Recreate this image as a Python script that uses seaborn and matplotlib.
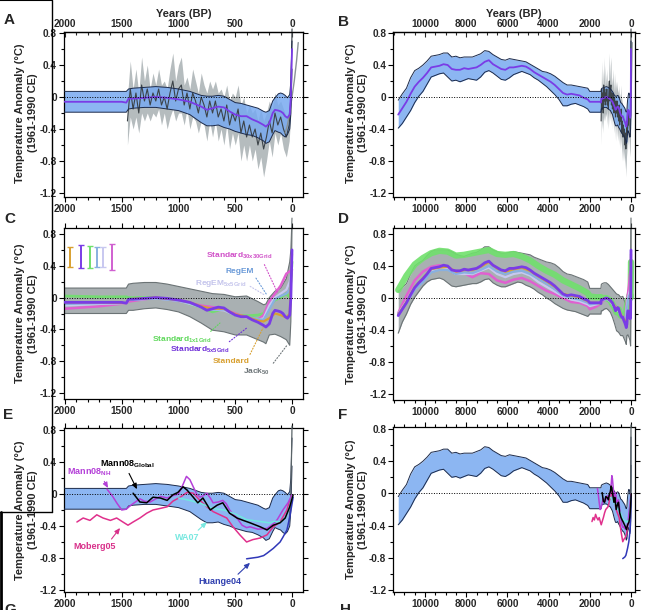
import matplotlib
matplotlib.use("Agg")
import matplotlib.pyplot as plt
import seaborn as sns
from matplotlib.lines import Line2D
from matplotlib.patches import Rectangle
from matplotlib.ticker import MultipleLocator, FixedLocator, FuncFormatter

# ---------------------------------------------------------------- data
# Marcott et al. 5x5 stack (years BP), mean and 1-sigma envelope
marcott_years = [11300, 11100, 10900, 10700, 10500, 10300, 10100, 9900, 9700, 9500, 9300, 9100,
                 8900, 8700, 8500, 8300, 8100, 7900, 7700, 7500, 7300, 7100, 6900, 6700, 6500,
                 6300, 6100, 5900, 5700, 5500, 5300, 5100, 4900, 4700, 4500, 4300, 4100, 3900,
                 3700, 3500, 3300, 3100, 2900, 2700, 2500, 2300, 2100,
                 2000, 1900, 1800, 1700, 1600, 1500, 1460, 1440, 1400, 1300, 1200, 1100, 1000,
                 900, 800, 750, 700, 650, 600, 550, 500, 450, 400, 350, 300, 250, 230, 200,
                 170, 150, 120, 100, 80, 60, 40, 20, 10, 0]
marcott_upper = [-0.04, 0.04, 0.11, 0.24, 0.33, 0.36, 0.40, 0.45, 0.51, 0.52, 0.53, 0.55,
                 0.55, 0.50, 0.51, 0.49, 0.50, 0.50, 0.50, 0.52, 0.54, 0.58, 0.57, 0.53, 0.50,
                 0.47, 0.46, 0.48, 0.47, 0.46, 0.45, 0.44, 0.41, 0.38, 0.35, 0.32, 0.31, 0.29,
                 0.26, 0.22, 0.18, 0.15, 0.15, 0.14, 0.13, 0.12, 0.11,
                 0.07, 0.07, 0.07, 0.07, 0.07, 0.07, 0.07, 0.10, 0.11, 0.12, 0.13, 0.12, 0.10,
                 0.07, 0.02, 0.01, 0.01, 0.02, 0.01, -0.03, -0.07, -0.08, -0.10, -0.12, -0.14,
                 -0.18, -0.19, -0.17, -0.05, -0.01, 0.04, 0.05, 0.04, 0.02, -0.01, 0.03, 0.20, 0.70]
marcott_lower = [-0.39, -0.33, -0.25, -0.17, -0.07, 0.01, 0.07, 0.16, 0.25, 0.27, 0.29, 0.30,
                 0.25, 0.20, 0.21, 0.19, 0.21, 0.23, 0.22, 0.21, 0.25, 0.31, 0.33, 0.30, 0.26,
                 0.22, 0.21, 0.24, 0.28, 0.30, 0.32, 0.30, 0.28, 0.24, 0.21, 0.17, 0.13, 0.08,
                 0.03, -0.03, -0.11, -0.11, -0.09, -0.08, -0.10, -0.12, -0.15,
                 -0.19, -0.19, -0.19, -0.19, -0.19, -0.19, -0.19, -0.15, -0.14, -0.13, -0.13,
                 -0.15, -0.17, -0.22, -0.32, -0.36, -0.36, -0.35, -0.38, -0.40, -0.43, -0.45,
                 -0.47, -0.48, -0.51, -0.55, -0.58, -0.56, -0.47, -0.42, -0.44, -0.45, -0.48,
                 -0.50, -0.47, -0.40, -0.20, 0.35]
marcott_mean = [-0.22, -0.14, -0.06, 0.04, 0.13, 0.19, 0.24, 0.30, 0.37, 0.38, 0.39, 0.41,
                0.40, 0.35, 0.34, 0.34, 0.36, 0.35, 0.36, 0.37, 0.40, 0.44, 0.46, 0.41, 0.38,
                0.35, 0.34, 0.37, 0.37, 0.38, 0.39, 0.38, 0.35, 0.31, 0.28, 0.25, 0.22, 0.19,
                0.15, 0.10, 0.05, 0.03, 0.04, 0.03, 0.02, -0.01, -0.03,
                -0.06, -0.06, -0.06, -0.06, -0.06, -0.06, -0.07, -0.02, -0.02, -0.01, 0.00,
                -0.01, -0.03, -0.06, -0.12, -0.16, -0.14, -0.12, -0.13, -0.18, -0.22, -0.24,
                -0.24, -0.28, -0.31, -0.35, -0.37, -0.33, -0.20, -0.16, -0.17, -0.18, -0.20,
                -0.24, -0.26, -0.22, 0.00, 0.60]

# high-resolution (20 yr) 5x5 stack, last 1500 years
jag_years = [1450, 1425, 1400, 1375, 1350, 1325, 1300, 1275, 1250, 1225, 1200, 1175, 1150, 1125,
             1100, 1075, 1050, 1025, 1000, 975, 950, 925, 900, 875, 850, 825, 800, 775, 750, 725,
             700, 675, 650, 625, 600, 575, 550, 525, 500, 475, 450, 425, 400, 375, 350, 325, 300,
             275, 250, 225, 200, 175, 150, 125, 100, 75, 50, 25, 10, 0]
jag_vals = [-0.30, 0.10, -0.15, 0.05, -0.20, 0.15, -0.05, 0.10, -0.10, 0.05, -0.05, 0.10, -0.10,
            0.00, -0.15, 0.05, 0.20, -0.05, 0.10, 0.15, -0.10, 0.05, -0.15, 0.05, -0.05, -0.20,
            0.00, -0.10, -0.25, -0.05, -0.20, -0.05, -0.25, -0.15, -0.30, -0.10, -0.35, -0.20,
            -0.30, -0.15, -0.45, -0.30, -0.50, -0.35, -0.50, -0.40, -0.60, -0.45, -0.65, -0.50,
            -0.30, -0.45, -0.20, -0.35, -0.25, -0.40, -0.50, -0.35, 0.00, 0.85]
jag_spread = [0.30, 0.35, 0.25, 0.30, 0.25, 0.35, 0.25, 0.30, 0.20, 0.25, 0.20, 0.25, 0.25,
              0.20, 0.25, 0.30, 0.35, 0.25, 0.30, 0.35, 0.25, 0.20, 0.25, 0.30, 0.25, 0.25,
              0.30, 0.25, 0.30, 0.25, 0.30, 0.25, 0.30, 0.25, 0.30, 0.25, 0.30, 0.25, 0.30,
              0.30, 0.35, 0.30, 0.30, 0.25, 0.30, 0.25, 0.30, 0.30, 0.35, 0.30, 0.25, 0.30,
              0.25, 0.25, 0.20, 0.25, 0.25, 0.20, 0.20, 0.15]
inst_years = [60, 40, 20, 0, -20, -40, -55]
inst_vals = [-0.45, -0.35, -0.20, 0.00, 0.20, 0.45, 0.68]

# Jack50 envelope
jack_years = marcott_years[:47] + [2000, 1800, 1600, 1460, 1440, 1400, 1300, 1200, 1100, 1000,
                                   900, 800, 700, 600, 500, 400, 300, 250, 230, 200, 150, 100,
                                   50, 20, 10, 0]
jack_upper = [0.08, 0.13, 0.18, 0.30, 0.40, 0.44, 0.47, 0.53, 0.58, 0.60, 0.60, 0.60, 0.60,
              0.58, 0.55, 0.53, 0.52, 0.54, 0.56, 0.57, 0.60, 0.64, 0.64, 0.60, 0.58, 0.56,
              0.56, 0.57, 0.58, 0.57, 0.56, 0.55, 0.54, 0.51, 0.49, 0.47, 0.45, 0.44, 0.42,
              0.38, 0.33, 0.30, 0.29, 0.27, 0.25, 0.23, 0.20,
              0.12, 0.12, 0.12, 0.12, 0.17, 0.18, 0.19, 0.19, 0.17, 0.14, 0.11, 0.08, 0.05,
              0.04, 0.01, 0.02, -0.05, -0.09, -0.08, 0.00, 0.08, 0.12, 0.24, 0.45, 0.60, 1.00]
jack_lower = [-0.44, -0.30, -0.20, -0.08, 0.01, 0.08, 0.15, 0.20, 0.23, 0.24, 0.25, 0.23,
              0.19, 0.15, 0.14, 0.15, 0.16, 0.17, 0.18, 0.18, 0.20, 0.23, 0.24, 0.19, 0.16,
              0.14, 0.14, 0.16, 0.18, 0.20, 0.19, 0.16, 0.14, 0.11, 0.07, 0.04, 0.00, -0.03,
              -0.07, -0.10, -0.13, -0.15, -0.16, -0.17, -0.19, -0.21, -0.23,
              -0.20, -0.20, -0.20, -0.20, -0.16, -0.16, -0.14, -0.13, -0.15, -0.18, -0.24,
              -0.32, -0.41, -0.43, -0.47, -0.47, -0.53, -0.56, -0.58, -0.47, -0.46, -0.49,
              -0.53, -0.60, -0.30, 0.87]

# alternative stacking methods
alt_years = [11300, 10900, 10500, 10100, 9700, 9300, 8900, 8500, 8100, 7700, 7300, 6900, 6500,
             6100, 5700, 5300, 4900, 4500, 4100, 3700, 3300, 2900, 2500, 2100,
             2000, 1700, 1460, 1440, 1200, 1000, 900, 800, 700, 600, 500, 400, 300, 250, 200,
             150, 100, 50, 20, 0]
std1x1 = [0.10, 0.28, 0.42, 0.50, 0.56, 0.59, 0.58, 0.53, 0.54, 0.56, 0.58, 0.60, 0.55, 0.54,
          0.55, 0.52, 0.47, 0.40, 0.34, 0.29, 0.22, 0.17, 0.12, 0.06,
          0.02, 0.01, 0.01, 0.00, 0.00, -0.03, -0.08, -0.12, -0.18, -0.14, -0.22, -0.23, -0.22,
          -0.20, -0.10, -0.03, 0.00, 0.05, 0.00, 0.45]
std30x30 = [-0.19, 0.03, 0.22, 0.33, 0.39, 0.41, 0.38, 0.33, 0.31, 0.26, 0.31, 0.30, 0.22, 0.19,
            0.23, 0.25, 0.21, 0.15, 0.09, 0.05, 0.00, -0.05, -0.06, -0.10,
            -0.14, -0.11, -0.07, -0.05, 0.00, -0.04, -0.07, -0.10, -0.12, -0.15, -0.20, -0.25,
            -0.28, -0.22, -0.05, 0.05, 0.15, 0.30, 0.33, 0.35]
regem = [-0.20, -0.06, 0.10, 0.20, 0.32, 0.35, 0.35, 0.30, 0.32, 0.31, 0.35, 0.40, 0.33, 0.30,
         0.33, 0.34, 0.30, 0.24, 0.18, 0.11, 0.03, 0.00, -0.02, -0.06,
         -0.08, -0.07, -0.07, -0.03, -0.01, -0.04, -0.07, -0.12, -0.15, -0.15, -0.22, -0.24,
         -0.27, -0.28, -0.15, -0.02, 0.02, 0.05, 0.10, 0.40]
regem5x5 = [-0.20, -0.04, 0.14, 0.24, 0.34, 0.36, 0.36, 0.30, 0.30, 0.30, 0.34, 0.38, 0.30, 0.26,
            0.30, 0.32, 0.28, 0.20, 0.14, 0.08, 0.02, -0.02, -0.04, -0.08,
            -0.10, -0.08, -0.07, -0.03, -0.01, -0.04, -0.08, -0.12, -0.15, -0.16, -0.22, -0.25,
            -0.28, -0.26, -0.10, 0.00, 0.05, 0.10, 0.20, 0.35]
standard = [-0.21, -0.05, 0.14, 0.25, 0.36, 0.38, 0.39, 0.33, 0.35, 0.35, 0.39, 0.45, 0.37, 0.33,
            0.36, 0.38, 0.34, 0.27, 0.21, 0.14, 0.05, 0.03, 0.01, -0.04,
            -0.06, -0.06, -0.07, -0.02, 0.00, -0.03, -0.06, -0.11, -0.14, -0.14, -0.21, -0.24,
            -0.29, -0.30, -0.26, -0.20, -0.22, -0.25, -0.20, 0.55]

# error bars (1-sigma) of the stacks
eb_years = [1956, 1862, 1780, 1722, 1663, 1589]
eb_center = [0.515, 0.515, 0.515, 0.51, 0.51, 0.515]
eb_half = [0.125, 0.145, 0.14, 0.13, 0.13, 0.165]

# other reconstructions
mann_glob_years = [1400, 1340, 1280, 1225, 1160, 1100, 1050, 1005, 960, 925, 870, 830, 785, 720,
                   660, 610, 550, 485, 430, 370, 280, 220, 165, 105, 60, 20, -10]
mann_glob = [0.01, -0.10, -0.11, -0.04, -0.05, -0.08, -0.01, 0.02, 0.09, 0.05, -0.04, -0.11,
             -0.05, -0.20, -0.14, -0.11, -0.24, -0.30, -0.33, -0.36, -0.41, -0.45, -0.39, -0.36,
             -0.30, -0.16, -0.01]
mann_nh_years = [1630, 1580, 1540, 1500, 1460, 1420, 1380, 1340, 1300, 1250, 1200, 1160, 1100,
                 1050, 1000, 960, 930, 900, 870, 840, 810, 780, 750, 720, 695, 650, 610, 580,
                 550, 520, 485, 440, 400, 370, 300, 220, 170, 130, 80, 35, 0]
mann_nh = [0.06, -0.03, -0.12, -0.20, -0.19, -0.14, -0.10, -0.06, -0.09, -0.10, -0.06, -0.03,
           -0.05, -0.02, 0.00, 0.12, 0.22, 0.18, 0.09, 0.00, -0.04, -0.02, 0.01, -0.05, -0.11,
           -0.10, -0.08, -0.12, -0.20, -0.25, -0.30, -0.39, -0.42, -0.41, -0.44, -0.43, -0.38,
           -0.32, -0.20, -0.11, -0.01]
moberg_years = [1895, 1840, 1780, 1720, 1665, 1600, 1545, 1490, 1445, 1400, 1340, 1280, 1225,
                1160, 1100, 1050, 985, 925, 870, 810, 750, 695, 635, 575, 520, 460, 400, 345,
                280, 220, 165, 105, 45, 20]
moberg = [-0.35, -0.30, -0.33, -0.26, -0.30, -0.33, -0.30, -0.35, -0.39, -0.35, -0.30, -0.24,
          -0.20, -0.18, -0.16, -0.09, -0.04, 0.02, 0.01, -0.08, -0.16, -0.22, -0.26, -0.30,
          -0.41, -0.51, -0.60, -0.57, -0.55, -0.51, -0.41, -0.35, -0.20, -0.08]
wa_years = [1000, 900, 800, 700, 600, 500, 400, 300, 250, 200, 150, 100, 60, 30, 0]
wa07 = [-0.05, -0.08, -0.12, -0.18, -0.20, -0.25, -0.32, -0.34, -0.35, -0.36, -0.34, -0.35,
        -0.30, -0.20, -0.05]
huang_years = [400, 350, 300, 250, 220, 165, 105, 80, 45, 20, -10]
huang = [-0.81, -0.80, -0.79, -0.77, -0.74, -0.68, -0.60, -0.54, -0.45, -0.29, -0.04]

# ---------------------------------------------------------------- style
sns.set_theme(style="ticks")
plt.rcParams["font.family"] = ["Liberation Sans", "DejaVu Sans"]
plt.rcParams["font.weight"] = "bold"
plt.rcParams["axes.unicode_minus"] = False
plt.rcParams["mathtext.fontset"] = "custom"
plt.rcParams["mathtext.rm"] = "Liberation Sans:bold"
plt.rcParams["mathtext.it"] = "Liberation Sans:bold"
plt.rcParams["mathtext.bf"] = "Liberation Sans:bold"

BAND = "#78aaf0"
EDGE = "#1c2a4a"
PURPLE = "#7a3ce6"
DARK = "#3c4348"
LIGHT = "#a3abae"
JACK = "#a9b0b2"
JACK_EDGE = "#6b7375"
GREEN = "#70e06c"
PINK = "#e060d0"
ORANGE = "#d8a030"
LBLUE = "#88b0e0"
LAV = "#c8c8f0"

W, H = 665, 610
fig = plt.figure(figsize=(W / 100, H / 100), dpi=100)


def axes_at(px_xa, va, px_xb, vb, py_top, py_bot, xlim, ylim):
    sx = (px_xb - px_xa) / (vb - va)
    left = px_xa + (xlim[0] - va) * sx
    right = px_xa + (xlim[1] - va) * sx
    sy = (py_bot - py_top) / 2.0
    top = py_top - (ylim[1] - 0.8) * sy
    bot = py_bot + (-1.2 - ylim[0]) * sy
    ax = fig.add_axes([left / W, 1 - bot / H, (right - left) / W, (bot - top) / H])
    ax.set_xlim(*xlim)
    ax.set_ylim(*ylim)
    ax.set_facecolor("white")
    return ax, left, right


def style(ax, short, top_labels, left_px, right_px, ylab_px):
    majors = [2000, 1500, 1000, 500, 0] if short else [10000, 8000, 6000, 4000, 2000, 0]
    minor = 100 if short else 500
    fmt = FuncFormatter(lambda v, p: f"{v:.0f}")
    ax.xaxis.set_major_locator(FixedLocator(majors))
    ax.xaxis.set_minor_locator(MultipleLocator(minor))
    ax.xaxis.set_major_formatter(fmt)
    ax.yaxis.set_major_locator(FixedLocator([0.8, 0.4, 0, -0.4, -0.8, -1.2]))
    ax.yaxis.set_minor_locator(MultipleLocator(0.2))
    ax.yaxis.set_major_formatter(FuncFormatter(lambda v, p: f"{v:g}"))
    ax.tick_params(which="both", direction="out", top=not top_labels, right=True,
                   labelsize=7.2, width=0.8, pad=1.5, color="black")
    ax.tick_params(which="major", length=3.5)
    ax.tick_params(which="minor", length=2)
    for s in ax.spines.values():
        s.set_linewidth(0.9)
        s.set_color("black")
    if top_labels:
        sec = ax.secondary_xaxis("top")
        sec.xaxis.set_major_locator(FixedLocator(majors))
        sec.xaxis.set_minor_locator(MultipleLocator(minor))
        sec.xaxis.set_major_formatter(fmt)
        sec.tick_params(which="both", direction="in", labelsize=7.2, width=0.8, pad=2)
        sec.tick_params(which="major", length=3.5)
        sec.tick_params(which="minor", length=2)
        sec.spines["top"].set_linewidth(0.9)
        sec.set_xlabel("Years (BP)", fontsize=8, fontweight="bold", labelpad=2)
    ax.axhline(0, color="black", ls=(0, (1, 1.6)), lw=0.7, zorder=6)
    xf = (ylab_px - left_px) / (right_px - left_px)
    ax.text(xf, -0.2, "Temperature Anomaly (\u00b0C)\n(1961-1990 CE)",
            transform=ax.get_yaxis_transform(), rotation=90, ha="center", va="center",
            fontsize=8, fontweight="bold", linespacing=1.35, multialignment="center")


def line(ax, x, y, color, lw, z=4, alpha=1.0):
    sns.lineplot(x=x, y=y, ax=ax, color=color, lw=lw, sort=False, estimator=None,
                 errorbar=None, zorder=z, alpha=alpha)


def clip_all(ax):
    # clip at the left/right spines only; spikes may rise above the top spine
    box = Rectangle((0, -0.02), 1, 1.3, transform=ax.transAxes, fc="none", ec="none")
    for art in ax.lines + ax.collections:
        art.set_clip_on(True)
        art.set_clip_path(box)


def marcott_band(ax, mean=True):
    ax.fill_between(marcott_years, marcott_lower, marcott_upper, color=BAND, alpha=0.85,
                    lw=0, zorder=2)
    line(ax, marcott_years, marcott_upper, EDGE, 0.7, z=3)
    line(ax, marcott_years, marcott_lower, EDGE, 0.7, z=3)
    if mean:
        line(ax, marcott_years, marcott_mean, PURPLE, 1.3, z=5)


def jagged(ax):
    lo = [v - s for v, s in zip(jag_vals, jag_spread)]
    hi = [v + s for v, s in zip(jag_vals, jag_spread)]
    ax.fill_between(jag_years, lo, hi, color=LIGHT, alpha=0.8, lw=0, zorder=1)
    line(ax, jag_years, jag_vals, DARK, 0.8, z=2.5)
    line(ax, inst_years, inst_vals, "#8a9295", 1.0, z=2.5)


def stacks(ax, thick):
    ax.fill_between(jack_years, jack_lower, jack_upper, color=JACK, lw=0, zorder=1)
    line(ax, jack_years, jack_upper, JACK_EDGE, 0.8, z=1.5)
    line(ax, jack_years, jack_lower, JACK_EDGE, 0.8, z=1.5)
    line(ax, alt_years, std1x1, GREEN, 4.5 if thick else 2.0, z=2, alpha=0.9)
    line(ax, alt_years, std30x30, PINK, 1.8, z=2.2)
    line(ax, alt_years, regem5x5, LAV, 1.6, z=2.3)
    line(ax, alt_years, regem, LBLUE, 1.6, z=2.4)
    line(ax, alt_years, standard, ORANGE, 1.6, z=2.5)
    line(ax, marcott_years, marcott_mean, PURPLE, 2.0, z=3)


def recons(ax):
    line(ax, moberg_years, moberg, "#e0308c", 1.1, z=4)
    line(ax, mann_nh_years, mann_nh, "#b440d8", 1.1, z=4)
    line(ax, wa_years, wa07, "#70e8e0", 1.1, z=4)
    line(ax, mann_glob_years, mann_glob, "black", 1.1, z=4.5)
    line(ax, huang_years, huang, "#3038b8", 1.1, z=4)
    line(ax, jag_years[-3:], jag_vals[-3:], "#5a6468", 0.9, z=3)


def note(ax, text, xy_text, xy_tip, color, relpos, size=6, head=False):
    style_ = "-|>,head_length=0.5,head_width=0.22" if head else "-"
    ax.annotate(text, xy=xy_tip, xytext=xy_text, ha="left", va="center", color=color,
                fontsize=size, fontweight="bold", zorder=7,
                arrowprops=dict(arrowstyle=style_, linestyle="-" if head else ":",
                                color=color, lw=0.8, relpos=relpos, shrinkA=0, shrinkB=0))


# ---------------------------------------------------------------- panels
short_lim = (2010, -97)
long_lim = (11540, -190)
LAB_L, LAB_R = 26.5, 357

axA, lA, rA = axes_at(65, 2000, 292, 0, 33, 193, short_lim, (-1.25, 0.81))
style(axA, True, True, lA, rA, LAB_L)
jagged(axA)
marcott_band(axA)

axB, lB, rB = axes_at(425, 10000, 631, 0, 33, 193, long_lim, (-1.25, 0.81))
style(axB, False, True, lB, rB, LAB_R)
jagged(axB)
marcott_band(axB)

axC, lC, rC = axes_at(65, 2000, 292, 0, 234, 393, short_lim, (-1.275, 0.875))
style(axC, True, False, lC, rC, LAB_L)
stacks(axC, thick=False)
eb_colors = [ORANGE, PURPLE, GREEN, LBLUE, LAV, "#d060d0"]
for yr, c, h, col in zip(eb_years, eb_center, eb_half, eb_colors):
    axC.errorbar([yr], [c], yerr=[h], color=col, capsize=2.5, elinewidth=1.4,
                 capthick=1.0, fmt="none", zorder=5)
note(axC, "Standard$_{30x30Grid}$", (758, 0.52), (130, 0.07), "#d050c8", (0.85, 0.1))
note(axC, "RegEM", (590, 0.33), (220, 0.03), "#6a9ad8", (1.0, 0.1))
note(axC, "RegEM$_{5x5Grid}$", (855, 0.18), (238, 0.03), "#c4c4ec", (1.0, 0.4))
note(axC, "Standard$_{1x1Grid}$", (1233, -0.53), (635, -0.32), "#5ed85a", (0.9, 0.9))
note(axC, "Standard$_{5x5Grid}$", (1075, -0.66), (397, -0.38), "#7030d8", (0.9, 0.9))
note(axC, "Standard", (696, -0.80), (255, -0.38), "#d8a030", (0.95, 0.9))
note(axC, "Jack$_{50}$", (432, -0.93), (44, -0.60), "#6d7578", (1.0, 0.9))

axD, lD, rD = axes_at(425, 10000, 631, 0, 234, 394, long_lim, (-1.275, 0.875))
style(axD, False, False, lD, rD, LAB_R)
stacks(axD, thick=True)

axE, lE, rE = axes_at(65, 2000, 292, 0, 430, 590, short_lim, (-1.22, 0.83))
style(axE, True, False, lE, rE, LAB_L)
marcott_band(axE, mean=False)
recons(axE)
note(axE, "Mann08$_{Global}$", (1692, 0.37), (1366, 0.06), "black", (0.5, 0.0), 6.5, True)
note(axE, "Mann08$_{NH}$", (1982, 0.27), (1621, 0.075), "#b440d8", (0.8, 0.0), 6.5, True)
note(axE, "Moberg05", (1930, -0.66), (1515, -0.425), "#d8308a", (0.85, 1.0), 6.5, True)
note(axE, "WA07", (1030, -0.55), (750, -0.35), "#78e8e0", (0.8, 1.0), 6.5, True)
note(axE, "Huange04", (828, -1.1), (370, -0.86), "#3040b0", (0.85, 1.0), 6.5, True)

axF, lF, rF = axes_at(425, 10000, 631, 0, 429, 590, long_lim, (-1.22, 0.83))
style(axF, False, False, lF, rF, LAB_R)
marcott_band(axF, mean=False)
recons(axF)

for ax in [axA, axB, axC, axD, axE, axF]:
    clip_all(ax)

# panel letters
for letter, x, y in [("A", 4, 20), ("B", 338, 22), ("C", 4, 219), ("D", 338, 219),
                     ("E", 3, 415), ("F", 338, 415), ("G", 4, 610), ("H", 340, 610)]:
    fig.text(x / W, 1 - y / H, letter, fontsize=11, fontweight="bold", ha="left", va="center")

# frame remnants at the left edge
for xs, ys, lw in [([0, 52], [0, 0], 1.5), ([52, 52], [0, 512], 1.0),
                   ([0, 52], [512, 512], 1.0), ([1, 1], [512, 610], 2.0)]:
    fig.add_artist(Line2D([v / W for v in xs], [1 - v / H for v in ys], color="black",
                          lw=lw, transform=fig.transFigure))

fig.savefig("out.png", dpi=100)
